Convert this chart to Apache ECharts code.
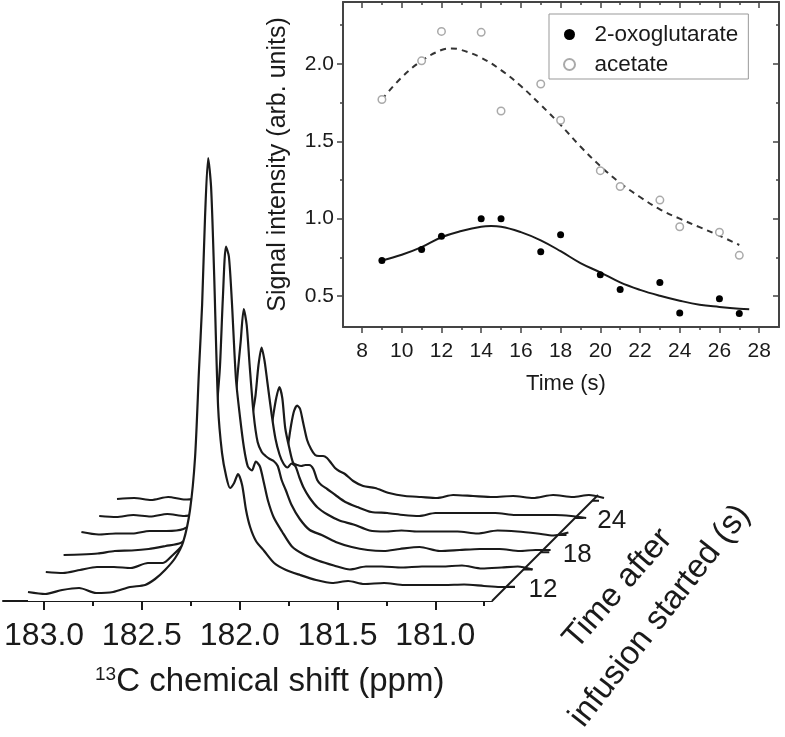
<!DOCTYPE html>
<html>
<head>
<meta charset="utf-8">
<title>13C time course</title>
<style>
  html, body { margin: 0; padding: 0; background: #fff; }
  /* the source figure is a soft upscaled scan */
  #main { width: 785px; height: 737px; filter: blur(0.5px); }
</style>
</head>
<body>
<div id="main"></div>
<script src="https://cdn.jsdelivr.net/npm/echarts@6/dist/echarts.min.js"></script>
<script>
// inset: signal against time
var times = [9, 11, 12, 14, 15, 17, 18, 20, 21, 23, 24, 26, 27];
var oxoglutarate = [0.73, 0.80, 0.887, 1.0, 1.0, 0.786, 0.896, 0.638, 0.543, 0.588, 0.39, 0.483, 0.388];
var acetate = [1.77, 2.02, 2.21, 2.204, 1.696, 1.87, 1.636, 1.31, 1.208, 1.12, 0.948, 0.913, 0.763];
var oxoFitTime = [9, 10, 11, 12, 13, 14, 14.5, 15, 16, 17, 18, 19, 20, 21, 22, 23, 24, 25, 26, 27, 27.5];
var oxoFit = [0.73, 0.767, 0.816, 0.88, 0.92, 0.948, 0.952, 0.948, 0.913, 0.86, 0.79, 0.713, 0.653, 0.588, 0.54, 0.502, 0.47, 0.444, 0.43, 0.418, 0.414];
var acetateFitTime = [9, 10, 11, 12, 12.5, 13, 14, 15, 16, 17, 18, 19, 20, 21, 22, 23, 24, 25, 26, 27];
var acetateFit = [1.77, 1.914, 2.02, 2.09, 2.10, 2.09, 2.04, 1.96, 1.857, 1.735, 1.606, 1.466, 1.34, 1.23, 1.14, 1.06, 1.0, 0.945, 0.89, 0.83];

// waterfall: one ppm list shared by the six spectra (front one first)
var ppm = [183.085, 182.997, 182.910, 182.823, 182.736, 182.649, 182.562, 182.485, 182.434, 182.383, 182.331, 182.290, 182.255, 182.229, 182.209, 182.193, 182.178, 182.162, 182.147, 182.132, 182.111, 182.091, 182.070, 182.050, 182.029, 182.009, 181.988, 181.968, 181.947, 181.917, 181.875, 181.824, 181.763, 181.691, 181.609, 181.527, 181.445, 181.363, 181.261, 181.158, 181.056, 180.953, 180.851, 180.749, 180.667, 180.590];
var spec12 = [9, 7, 11, 13, 8, 9, 14, 16, 22, 31, 43, 59, 91, 144, 231, 296, 384, 443, 414, 331, 194, 148, 125, 113, 118, 127, 116, 91, 74, 60, 50, 38, 31, 26, 21, 18, 20, 17, 18, 16, 16, 16, 16.5, 15, 14, 14];
var spec15 = [10.5, 9.5, 12.5, 15.5, 15.5, 14.5, 19.5, 19.5, 27.5, 37.5, 50, 60, 90, 130, 175, 215, 284, 336, 326, 282, 204, 167, 135, 116, 112, 121, 116, 100, 82, 65, 51, 36, 28, 22, 17, 13, 16, 16, 15, 16, 16, 17, 14, 15, 16, 13];
var spec18 = [9, 9.5, 10.5, 13, 13.5, 15, 18, 21, 29, 40, 55, 75, 100, 125, 154, 191, 222, 255, 239, 199, 149, 122, 112, 108, 105, 103, 98, 84, 74, 59, 45, 34, 29, 22, 17, 14, 13, 15, 17, 13, 14, 15, 15, 13, 14, 14];
var spec21 = [13.5, 11, 12, 12, 14.5, 14.5, 16.5, 26, 30, 36, 46, 60, 80, 100, 130, 150, 180, 198, 185, 163, 132, 107, 91, 82, 78, 82, 79, 68, 58, 48, 38, 31, 25, 21, 15, 14, 15, 14, 14, 14, 12, 15, 14, 12, 10, 13];
var spec24 = [11, 10, 12, 10.5, 13, 11, 14, 16, 20, 25, 32, 42, 55, 70, 92, 112, 129, 140, 129, 99, 79, 64, 62, 61, 62, 62, 58, 47, 42, 38, 32, 25, 20, 15, 14, 12, 11, 14, 14, 14, 14, 12, 12, 12, 11, 9];
var spec27 = [9.5, 10.5, 8.5, 11.5, 9, 10, 11, 12, 14, 17, 21, 26, 33, 42, 63, 83.5, 97.5, 103, 99.5, 86.5, 68.5, 59.5, 53.5, 52.5, 52.5, 50.5, 45.5, 40.5, 37.5, 34.5, 27.5, 22.5, 20.5, 15.5, 12.5, 11.5, 10.5, 13.5, 12.5, 11.5, 12.5, 10.5, 13.5, 11.5, 13.5, 10.5];
var spectra = [spec12, spec15, spec18, spec21, spec24, spec27];

var ppmMajor = [183, 182.5, 182, 181.5, 181];
var ppmMinor = [182.75, 182.25, 181.75, 181.25, 180.75];
var depthTimes = [12, 15, 18, 21, 24, 27];
var depthLabels = [12, 18, 24];
var timeMajor = [8, 10, 12, 14, 16, 18, 20, 22, 24, 26, 28];
var timeMinor = [9, 11, 13, 15, 17, 19, 21, 23, 25, 27];
var signalMajor = [0.5, 1.0, 1.5, 2.0];
var signalMinor = [0.75, 1.25, 1.75, 2.25];

var FONT = '"Liberation Sans", Arial, sans-serif';
var INK = '#1a1a1a';
var FRAME = '#444';

var chart = echarts.init(document.getElementById('main'), null, { renderer: 'canvas' });

function tickAxis(gridIndex, position, min, max, values, len, inside, lineOn) {
  return {
    type: 'value', gridIndex: gridIndex, position: position, min: min, max: max,
    axisLine: { show: lineOn, onZero: false, lineStyle: { color: FRAME, width: 2 } },
    axisTick: { show: true, inside: inside, length: len, customValues: values, lineStyle: { color: FRAME, width: 1.5 } },
    axisLabel: { show: false },
    splitLine: { show: false }
  };
}
function hiddenAxis(gridIndex, min, max) {
  return { type: 'value', gridIndex: gridIndex, show: false, min: min, max: max, splitLine: { show: false } };
}

var grids = [
  { left: 343, top: 2, width: 436, height: 325 },  // 0 inset
  { left: 343, top: 2, width: 436, height: 325 },  // 1 inset minor ticks
  { left: 3, top: 151, width: 489, height: 450 },  // 2 ppm axis
  { left: 3, top: 151, width: 489, height: 450 },  // 3 ppm minor ticks
  { left: 492, top: 495, width: 106, height: 106 } // 4 time depth axis
];

// inset major axes
var insetBottom = tickAxis(0, 'bottom', 7.04, 29, timeMajor, 6, false, true);
insetBottom.axisLabel = { show: true, customValues: timeMajor, color: INK, fontSize: 21, fontFamily: FONT, margin: 14 };
insetBottom.name = 'Time (s)';
insetBottom.nameLocation = 'middle';
insetBottom.nameGap = 46;
insetBottom.nameTextStyle = { color: INK, fontSize: 22, fontFamily: FONT, padding: [0, 0, 0, 10] };
var insetLeft = tickAxis(0, 'left', 0.3, 2.4, signalMajor, 6, false, true);
insetLeft.axisLabel = { show: true, customValues: signalMajor, color: INK, fontSize: 21, fontFamily: FONT, margin: 9, formatter: function (v) { return v.toFixed(1); } };
insetLeft.name = 'Signal intensity (arb. units)';
insetLeft.nameLocation = 'middle';
insetLeft.nameGap = 52;
insetLeft.nameTextStyle = { color: INK, fontSize: 25, fontFamily: FONT };

// ppm axis
var ppmAxis = tickAxis(2, 'bottom', 180.71, 183.21, ppmMajor, 9, false, true);
ppmAxis.inverse = true;
ppmAxis.axisLine.lineStyle = { color: INK, width: 2 };
ppmAxis.axisTick.lineStyle = { color: INK, width: 2 };
ppmAxis.axisLabel = { show: true, customValues: ppmMajor, color: INK, fontSize: 32, fontFamily: FONT, margin: 19, formatter: function (v) { return v.toFixed(1); } };
var ppmMinorAxis = tickAxis(3, 'bottom', 180.71, 183.21, ppmMinor, 5, false, false);
ppmMinorAxis.inverse = true;
ppmMinorAxis.axisTick.lineStyle = { color: INK, width: 2 };

var xAxes = [
  insetBottom,
  tickAxis(0, 'top', 7.04, 29, timeMajor, 6, true, true),
  tickAxis(1, 'bottom', 7.04, 29, timeMinor, 3, false, false),
  tickAxis(1, 'top', 7.04, 29, timeMinor, 3, true, false),
  ppmAxis,
  ppmMinorAxis,
  hiddenAxis(4, 9.5, 28)
];
var yAxes = [
  insetLeft,
  tickAxis(0, 'right', 0.3, 2.4, signalMajor, 6, true, true),
  tickAxis(1, 'left', 0.3, 2.4, signalMinor, 3, false, false),
  tickAxis(1, 'right', 0.3, 2.4, signalMinor, 3, true, false),
  hiddenAxis(2, 0, 450),
  hiddenAxis(3, 0, 450),
  hiddenAxis(4, 9.5, 28)
];

// six offset spectra, back one drawn first so the white fill of the nearer one hides it
var series = [];
for (var i = spectra.length - 1; i >= 0; i--) {
  var g = grids.length;
  grids.push({ left: 28 + 17.8 * i, top: 151 - 18.5 * i, width: 487, height: 450 });
  xAxes.push(Object.assign(hiddenAxis(g, 180.59, 183.085), { inverse: true }));
  yAxes.push(hiddenAxis(g, 0, 450));
  series.push({
    type: 'line',
    name: 'spectrum ' + depthTimes[i],
    xAxisIndex: xAxes.length - 1,
    yAxisIndex: yAxes.length - 1,
    data: ppm.map(function (p, j) { return [p, spectra[i][j]]; }),
    smooth: 0.25,
    showSymbol: false,
    lineStyle: { color: INK, width: 2.2 },
    areaStyle: { color: '#fff', opacity: 1 },
    z: 3 + (spectra.length - i),
    silent: true
  });
}

// time depth axis: diagonal, tick stubs and their labels
var depthX = 6, depthY = 6;
var stubs = [];
depthTimes.forEach(function (t) {
  stubs.push([t, t], [t + 1.5, t], null);
});
series.push({
  type: 'line', name: 'depth axis', xAxisIndex: depthX, yAxisIndex: depthY,
  data: [[9.5, 9.5], [28, 28]], showSymbol: false, clip: false,
  lineStyle: { color: INK, width: 2 }, z: 20
});
series.push({
  type: 'line', name: 'depth ticks', xAxisIndex: depthX, yAxisIndex: depthY,
  data: stubs.map(function (d) { return d || [null, null]; }), showSymbol: false, clip: false, connectNulls: false,
  lineStyle: { color: INK, width: 2 }, z: 20
});
series.push({
  type: 'scatter', name: 'depth labels', xAxisIndex: depthX, yAxisIndex: depthY,
  data: depthLabels.map(function (t) { return [t + 1.5, t]; }),
  symbolSize: 1, itemStyle: { color: 'transparent', opacity: 1 }, clip: false, z: 20,
  label: {
    show: true, position: 'right', distance: 12, offset: [1, 3], color: INK, fontSize: 26, fontFamily: FONT,
    formatter: function (p) { return String(p.value[1]); }
  }
});

// inset series
series.push({
  type: 'line', name: 'oxoglutarate fit', xAxisIndex: 0, yAxisIndex: 0,
  data: oxoFitTime.map(function (t, j) { return [t, oxoFit[j]]; }),
  smooth: 0.4, showSymbol: false, lineStyle: { color: INK, width: 2 }, z: 5
});
series.push({
  type: 'line', name: 'acetate fit', xAxisIndex: 0, yAxisIndex: 0,
  data: acetateFitTime.map(function (t, j) { return [t, acetateFit[j]]; }),
  smooth: 0.4, showSymbol: false, lineStyle: { color: '#333', width: 2, type: [6, 5] }, z: 5
});
series.push({
  type: 'scatter', name: '2-oxoglutarate', xAxisIndex: 0, yAxisIndex: 0,
  data: times.map(function (t, j) { return [t, oxoglutarate[j]]; }),
  symbol: 'circle', symbolSize: 7, itemStyle: { color: '#000', opacity: 1 }, z: 6
});
series.push({
  type: 'scatter', name: 'acetate', xAxisIndex: 0, yAxisIndex: 0,
  data: times.map(function (t, j) { return [t, acetate[j]]; }),
  symbol: 'circle', symbolSize: 7.5, itemStyle: { color: '#fff', borderColor: '#aaa', borderWidth: 1.5, opacity: 1 }, z: 6
});

chart.setOption({
  animation: false,
  backgroundColor: '#fff',
  textStyle: { fontFamily: FONT },
  grid: grids,
  xAxis: xAxes,
  yAxis: yAxes,
  series: series,
  legend: {
    data: ['2-oxoglutarate', 'acetate'],
    orient: 'vertical',
    left: 549,
    top: 14,
    padding: [9, 10, 3, 14],
    itemWidth: 12,
    itemHeight: 11,
    itemGap: 7,
    borderColor: '#999',
    borderWidth: 1,
    backgroundColor: '#fff',
    textStyle: { color: INK, fontSize: 22.5, fontFamily: FONT, padding: [0, 0, 0, 14] }
  },
  graphic: [
    {
      type: 'text', left: 95, top: 665, z: 30,
      style: {
        text: '{sup|13}C chemical shift (ppm)',
        fill: INK,
        font: '33px ' + FONT,
        rich: { sup: { fontSize: 19, fontFamily: FONT, verticalAlign: 'top', fill: INK, lineHeight: 33 } }
      }
    },
    {
      type: 'text', x: 618, y: 589, rotation: 49 * Math.PI / 180, z: 30,
      style: { text: 'Time after', fill: INK, font: '33px ' + FONT, align: 'center', verticalAlign: 'middle' }
    },
    {
      type: 'text', x: 660, y: 616, rotation: 52 * Math.PI / 180, z: 30,
      style: { text: 'infusion started (s)', fill: INK, font: '33px ' + FONT, align: 'center', verticalAlign: 'middle' }
    }
  ]
});
</script>
</body>
</html>
